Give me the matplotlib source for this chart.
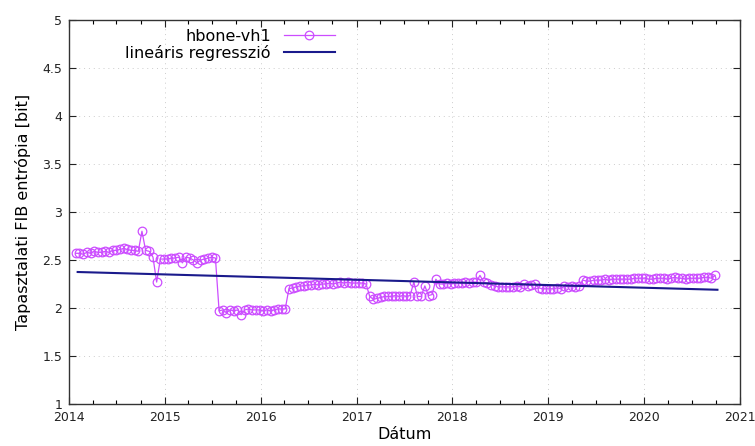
import matplotlib
matplotlib.use("Agg")
import matplotlib.pyplot as plt
import matplotlib.dates as mdates
import pandas as pd
import numpy as np

# Series: biweekly FIB entropy samples, starting 2014-01-27
start_date = "2014-01-27"
entropy = [
    # 2014
    2.57, 2.57, 2.56, 2.58, 2.57, 2.59, 2.58, 2.58, 2.59, 2.58, 2.60, 2.60, 2.61,
    2.62, 2.61, 2.60, 2.60, 2.59, 2.80, 2.60, 2.59, 2.53, 2.27, 2.51, 2.51,
    # 2015
    2.51, 2.52, 2.52, 2.53, 2.47, 2.53, 2.52, 2.50, 2.47, 2.50, 2.51, 2.52, 2.53,
    2.52, 1.97, 1.98, 1.95, 1.98, 1.97, 1.98, 1.93, 1.98, 1.99, 1.98, 1.98, 1.98,
    # 2016
    1.97, 1.98, 1.97, 1.98, 1.99, 1.99, 1.99, 2.20, 2.21, 2.22, 2.23, 2.23, 2.24,
    2.24, 2.25, 2.24, 2.25, 2.25, 2.26, 2.25, 2.26, 2.27, 2.26, 2.27, 2.26, 2.26,
    # 2017
    2.26, 2.26, 2.25, 2.12, 2.09, 2.10, 2.11, 2.12, 2.12, 2.12, 2.13, 2.12, 2.13,
    2.12, 2.13, 2.27, 2.12, 2.12, 2.23, 2.13, 2.14, 2.30, 2.25, 2.25, 2.26, 2.25,
    # 2018
    2.26, 2.26, 2.26, 2.27, 2.26, 2.27, 2.27, 2.34, 2.27, 2.26, 2.24, 2.23, 2.22,
    2.22, 2.22, 2.22, 2.22, 2.23, 2.22, 2.25, 2.23, 2.24, 2.25, 2.21, 2.20, 2.20,
    # 2019
    2.20, 2.20, 2.21, 2.20, 2.23, 2.22, 2.23, 2.22, 2.23, 2.29, 2.28, 2.28, 2.29,
    2.29, 2.29, 2.30, 2.29, 2.30, 2.30, 2.30, 2.30, 2.30, 2.30, 2.31, 2.31, 2.31,
    # 2020
    2.31, 2.30, 2.30, 2.31, 2.31, 2.31, 2.30, 2.31, 2.32, 2.31, 2.31, 2.30, 2.31,
    2.31, 2.31, 2.31, 2.32, 2.32, 2.31, 2.34,
]

# Linear regression line endpoints
reg_dates = ["2014-02-03", "2020-10-07"]
reg_values = [2.375, 2.19]

series_label = "hbone-vh1"
reg_label = "lineáris regresszió"
x_label = "Dátum"
y_label = "Tapasztalati FIB entrópia [bit]"
y_ticks = [1, 1.5, 2, 2.5, 3, 3.5, 4, 4.5, 5]
y_tick_labels = ["1", "1.5", "2", "2.5", "3", "3.5", "4", "4.5", "5"]
x_years = list(range(2014, 2022))

dates = pd.date_range(start_date, periods=len(entropy), freq="14D")

fig = plt.figure(figsize=(7.55, 4.46), dpi=100)
ax = fig.add_axes([69 / 755, 1 - 404 / 446, (740 - 69) / 755, (404 - 20) / 446])

ax.plot(dates, entropy, color="#cc4dff", lw=0.9, marker="o", ms=6.2,
        mfc="none", mec="#cc4dff", mew=0.9, label=series_label)
ax.plot(pd.to_datetime(reg_dates), reg_values, color="#1a1a8c", lw=1.5,
        label=reg_label)

ax.set_xlim(pd.Timestamp(f"{x_years[0]}-01-01"), pd.Timestamp(f"{x_years[-1]}-01-01"))
ax.set_ylim(y_ticks[0], y_ticks[-1])
ax.set_xticks([pd.Timestamp(f"{y}-01-01") for y in x_years])
ax.set_xticklabels([str(y) for y in x_years])
ax.xaxis.set_minor_locator(mdates.MonthLocator(bymonth=[4, 7, 10]))
ax.set_yticks(y_ticks)
ax.set_yticklabels(y_tick_labels)

ax.tick_params(axis="both", which="major", direction="in", length=5, width=0.8,
               top=True, right=True, labelsize=9, colors="#222222", pad=5)
ax.tick_params(axis="x", which="minor", direction="in", length=3, width=0.8,
               top=True, bottom=True)
for s in ax.spines.values():
    s.set_color("#333333")
    s.set_linewidth(1.0)

ax.grid(True, which="major", linestyle=(0, (1, 4)), color="#cccccc", lw=0.7)

ax.set_xlabel(x_label, fontsize=11.5, labelpad=2)
ax.set_ylabel(y_label, fontsize=11.5, labelpad=8)

leg = ax.legend(loc="upper left", bbox_to_anchor=(0.065, 1.01), frameon=False,
                markerfirst=False, fontsize=11.5, handlelength=3.2,
                borderpad=0.3, labelspacing=0.05, handletextpad=0.8)
for t in leg.get_texts():
    t.set_ha("right")
leg._legend_box.align = "right"

fig.savefig("out.png", dpi=100)
